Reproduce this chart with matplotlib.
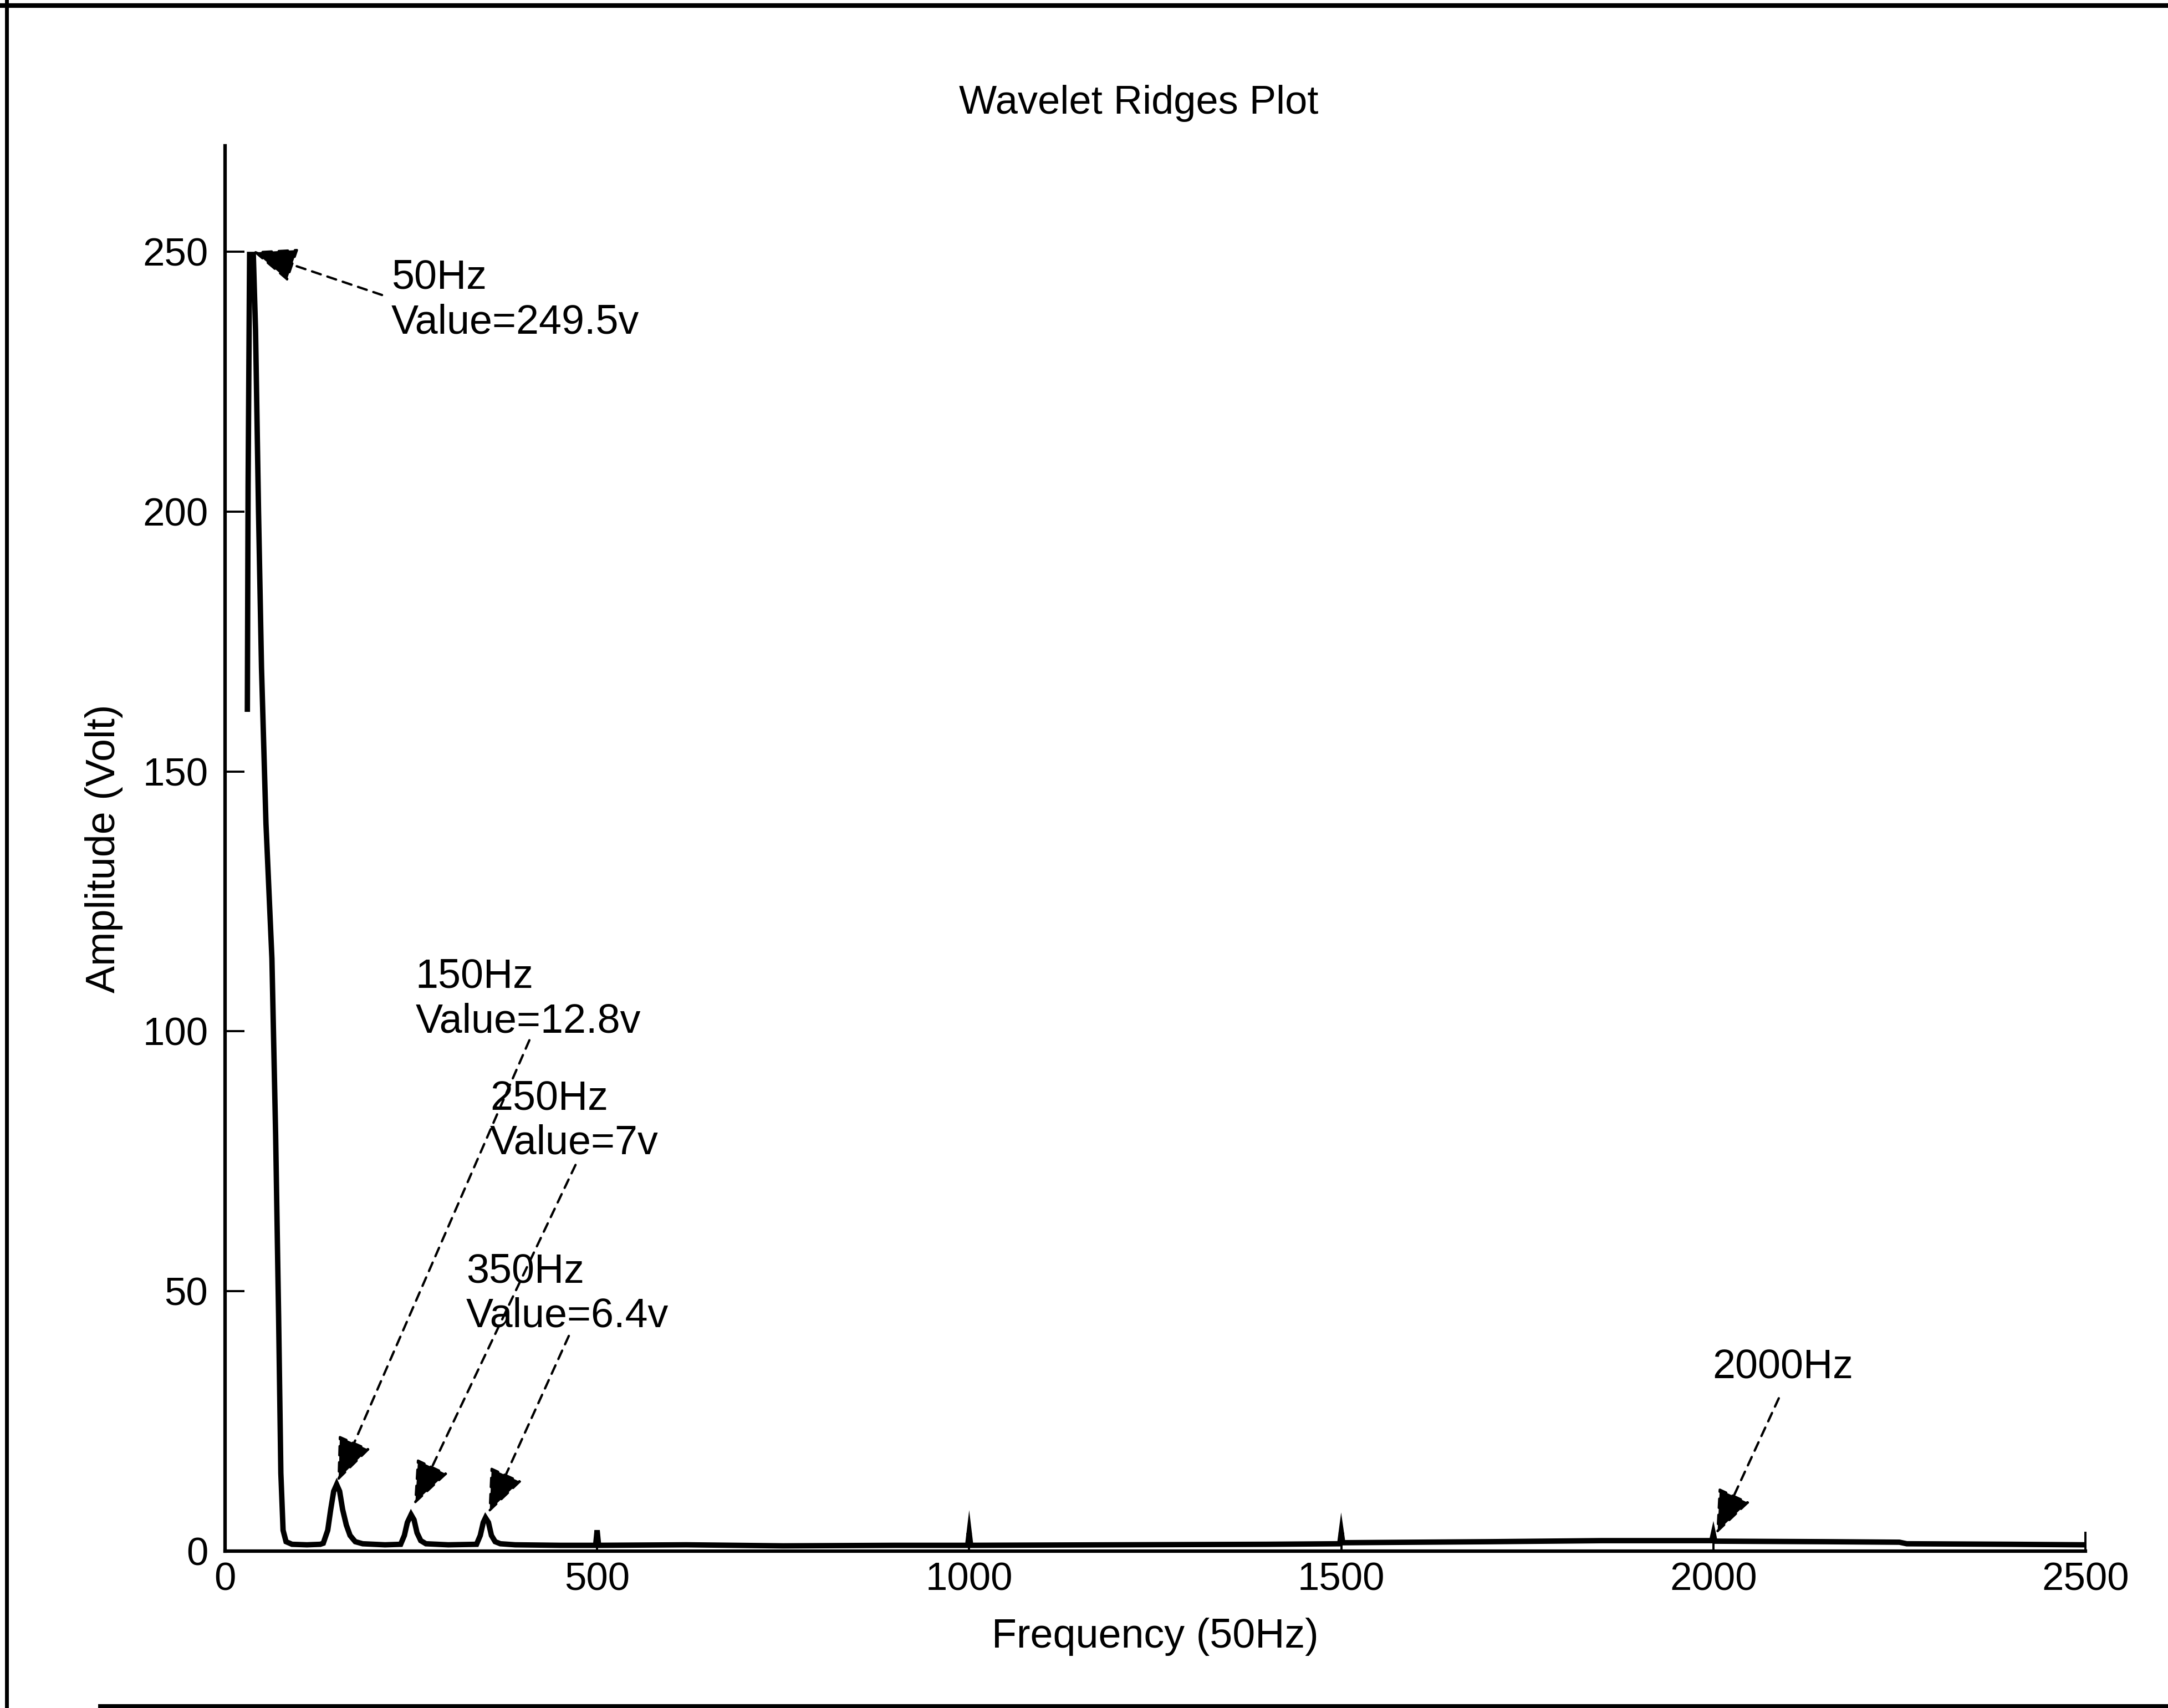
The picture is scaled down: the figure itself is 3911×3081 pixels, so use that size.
import matplotlib
matplotlib.use("Agg")
import matplotlib.pyplot as plt
from matplotlib.lines import Line2D

plt.rcParams['font.family'] = ['Liberation Sans', 'DejaVu Sans']

# ridge amplitude
freq = [30, 31, 33, 38, 41, 45, 49, 55, 63, 68, 72, 75, 78, 82, 90, 110, 128,
        132, 138, 142, 146, 150, 154, 158, 163, 168, 175, 185, 215,
        236, 241, 245, 250, 254, 258, 263, 270, 300,
        338, 343, 347, 350, 354, 358, 363, 370, 390, 450,
        498, 500, 502, 620, 750, 900, 998, 1000, 1002, 1200, 1400,
        1498, 1500, 1502, 1700, 1850, 1998, 2000, 2002, 2150, 2250,
        2260, 2400, 2500]
amp = [162, 205, 249.5, 249.5, 235, 200, 170, 140, 114, 80, 45, 15, 4, 1.8, 1.3, 1.2, 1.3,
       1.5, 4, 8, 11.5, 12.8, 11.5, 8, 5, 3, 1.8, 1.4, 1.2,
       1.3, 3, 5.5, 7, 6, 3.5, 2, 1.4, 1.2,
       1.3, 3, 5.5, 6.4, 5.5, 3, 1.8, 1.4, 1.2, 1.1,
       1.1, 4.0, 1.1, 1.2, 1.0, 1.1, 1.1, 3.5, 1.1, 1.2, 1.3,
       1.4, 3.6, 1.6, 1.8, 2.0, 2.0, 3.3, 1.9, 1.8, 1.7,
       1.4, 1.3, 1.2]

xticks = [0, 500, 1000, 1500, 2000, 2500]
yticks = [0, 50, 100, 150, 200, 250]

label_top = ["50Hz", "150Hz", "250Hz", "350Hz", "2000Hz"]
label_val = ["Value=249.5v", "Value=12.8v", "Value=7v", "Value=6.4v", ""]

# annotation layout (data coords)
arrow_tip = [(37, 250.1), (151, 13.4), (254, 8.9), (354, 7.3), (2004, 3.3)]
arrow_tail = [(211, 241.7), (409, 98.3), (471, 74.3), (462, 41.4), (2088, 29.4)]
text_pos = [(223.5, 242.9), (256, 108.4), (356, 85.0), (324, 51.7), (1999, 33.2)]

fig = plt.figure(figsize=(39.11, 30.81), dpi=100)
ax = fig.add_axes([0.1038, 0.0919, 0.8581, 0.8227])

ax.plot(freq, amp, color='black', lw=7, solid_joinstyle='miter')

ax.set_xlim(0, 2500)
ax.set_ylim(0, 270.4)
ax.set_xticks(xticks)
ax.set_yticks(yticks)
ax.spines['top'].set_visible(False)
ax.spines['right'].set_visible(False)
for s in ['left', 'bottom']:
    ax.spines[s].set_linewidth(4.5)
ax.tick_params(direction='in', length=25, width=2.8, labelsize=51)
ax.tick_params(axis='x', pad=14)
ax.tick_params(axis='y', pad=22)

ax.set_title('Wavelet Ridges Plot', fontsize=52, pad=42, x=0.491)
ax.set_xlabel('Frequency (50Hz)', fontsize=53, labelpad=25)
ax.set_ylabel('Amplitude (Volt)', fontsize=53, labelpad=25)

for i in range(len(label_top)):
    ax.annotate('', xy=arrow_tip[i], xytext=arrow_tail[i],
                arrowprops=dict(arrowstyle='-|>,head_length=0.5,head_width=0.2',
                                color='black', lw=3,
                                linestyle=(0, (4, 3)), mutation_scale=100,
                                shrinkA=0, shrinkB=0),
                annotation_clip=False)
    ax.annotate(label_top[i], xy=text_pos[i], fontsize=53, va='baseline', ha='left')
    if label_val[i]:
        ax.annotate(label_val[i], xy=text_pos[i], xytext=(0, -58),
                    textcoords='offset points', fontsize=53, va='baseline', ha='left')

# scanned frame around the figure
fig.add_artist(Line2D([0, 1], [1 - 10 / 3081, 1 - 10 / 3081], color='black', lw=6, transform=fig.transFigure))
fig.add_artist(Line2D([12 / 3911, 12 / 3911], [0, 1], color='black', lw=5, transform=fig.transFigure))
fig.add_artist(Line2D([180 / 3911, 1], [4 / 3081, 4 / 3081], color='black', lw=5, transform=fig.transFigure))

fig.savefig('out.png', dpi=100, facecolor='white')
